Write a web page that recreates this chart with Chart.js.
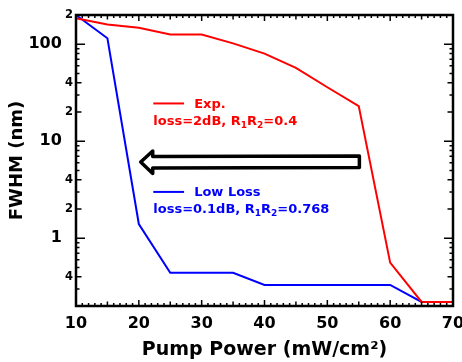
<!DOCTYPE html>
<html>
<head>
<meta charset="utf-8">
<script src="https://cdn.jsdelivr.net/npm/chart.js@4/dist/chart.umd.min.js"></script>
<style>
    html, body { margin: 0; padding: 0; background: #fff; }
    #wrap { width: 462px; height: 362px; }
</style>
</head>
<body>
<div id="wrap"><canvas id="fwhmChart" width="462" height="362"></canvas></div>
<script>
// pump power (mW/cm²)
const pumpPower = [10, 15, 20, 25, 30, 35, 40, 45, 50, 55, 60, 65, 70];
// FWHM (nm) - experiment, loss=2dB
const expFwhm = [185, 160, 148, 126, 126, 102, 80, 57, 36, 23, 0.56, 0.22, 0.22];
// FWHM (nm) - low loss, loss=0.1dB
const lowLossFwhm = [200, 115, 1.4, 0.44, 0.44, 0.44, 0.33, 0.33, 0.33, 0.33, 0.33, 0.22, 0.22];

const xTicks = [10, 20, 30, 40, 50, 60, 70];
const yTicks = [0.2, 0.3, 0.4, 0.5, 0.6, 0.7, 0.8, 0.9, 1, 2, 3, 4, 5, 6, 7, 8, 9, 10, 20, 30, 40, 50, 60, 70, 80, 90, 100, 200];
const yTickLabels = ['', '', '4', '', '', '', '', '', '1', '2', '', '4', '', '', '', '', '', '10', '2', '', '4', '', '', '', '', '', '100', '2'];
const yMajor = [1, 10, 100];

const FONT = 'DejaVu Sans';

/**
 * 内向きの目盛り・枠・注釈を描く
 */
const frameTicks = {
    id: 'frameTicks',
    afterDatasetsDraw(chart) {
        const { ctx, chartArea: a, scales: { x, y } } = chart;
        ctx.save();
        ctx.strokeStyle = '#000';
        ctx.lineWidth = 1.5;
        ctx.beginPath();
        for (let v = 10; v <= 70; v++) {
            const px = x.getPixelForValue(v);
            const len = v % 10 === 0 ? 6 : (v % 5 === 0 ? 4.5 : 3);
            ctx.moveTo(px, a.bottom); ctx.lineTo(px, a.bottom - len);
            ctx.moveTo(px, a.top); ctx.lineTo(px, a.top + len);
        }
        yTicks.forEach((v, i) => {
            const py = y.getPixelForValue(v);
            let len = 3.5;
            if (yMajor.includes(v)) len = 9;
            else if (yTickLabels[i] !== '') len = 5.5;
            ctx.moveTo(a.left, py); ctx.lineTo(a.left + len, py);
            ctx.moveTo(a.right, py); ctx.lineTo(a.right - len, py);
        });
        ctx.stroke();

        ctx.lineWidth = 2.5;
        ctx.strokeRect(a.left, a.top, a.right - a.left, a.bottom - a.top);

        // 凡例の代わりの注釈
        drawNote(ctx, x, y, 'rgb(255,0,0)', 'Exp.', 24.5, [['loss=2dB, R'], ['1', 1], ['R'], ['2', 1], ['=0.4']], 16);
        drawNote(ctx, x, y, 'rgb(0,0,255)', 'Low Loss', 3.0, [['loss=0.1dB, R'], ['1', 1], ['R'], ['2', 1], ['=0.768']], 1.96);

        // 矢印
        const tipX = x.getPixelForValue(20.3);
        const endX = x.getPixelForValue(55.1);
        const headX = tipX + 12;
        const cy = y.getPixelForValue(6.1);
        ctx.beginPath();
        ctx.moveTo(tipX, cy);
        ctx.lineTo(headX, cy - 11);
        ctx.lineTo(headX, cy - 5.5);
        ctx.lineTo(endX, cy - 6);
        ctx.lineTo(endX, cy + 5.5);
        ctx.lineTo(headX, cy + 6);
        ctx.lineTo(headX, cy + 11.5);
        ctx.closePath();
        ctx.fillStyle = '#fff';
        ctx.fill();
        ctx.lineWidth = 3.5;
        ctx.lineJoin = 'round';
        ctx.strokeStyle = '#000';
        ctx.stroke();
        ctx.restore();
    }
};

function drawNote(ctx, x, y, color, title, titleY, parts, lineY) {
    const x0 = x.getPixelForValue(22.3);
    const lx1 = x.getPixelForValue(27.2);
    const tx = x.getPixelForValue(28.8);
    const ty = y.getPixelForValue(titleY);
    ctx.strokeStyle = color;
    ctx.fillStyle = color;
    ctx.lineWidth = 2;
    ctx.beginPath();
    ctx.moveTo(x0, ty); ctx.lineTo(lx1, ty);
    ctx.stroke();
    ctx.textBaseline = 'middle';
    ctx.textAlign = 'left';
    ctx.font = `bold 13px "${FONT}"`;
    ctx.fillText(title, tx, ty + 1);
    let cx = x0;
    const py = y.getPixelForValue(lineY);
    parts.forEach(([txt, sub]) => {
        ctx.font = sub ? `bold 9px "${FONT}"` : `bold 13px "${FONT}"`;
        ctx.fillText(txt, cx, sub ? py + 4 : py);
        cx += ctx.measureText(txt).width;
    });
}

const ctx = document.getElementById('fwhmChart').getContext('2d');
new Chart(ctx, {
    type: 'line',
    data: {
        datasets: [
            {
                label: 'Exp.',
                data: pumpPower.map((p, i) => ({ x: p, y: expFwhm[i] })),
                borderColor: 'rgb(255,0,0)',
                borderWidth: 2,
                pointRadius: 0,
                tension: 0,
                clip: false
            },
            {
                label: 'Low Loss',
                data: pumpPower.map((p, i) => ({ x: p, y: lowLossFwhm[i] })),
                borderColor: 'rgb(0,0,255)',
                borderWidth: 2,
                pointRadius: 0,
                tension: 0,
                clip: false
            }
        ]
    },
    options: {
        responsive: false,
        animation: false,
        layout: { padding: { left: 0, top: 15, right: 9, bottom: 0 } },
        plugins: {
            legend: { display: false },
            tooltip: { enabled: false }
        },
        scales: {
            x: {
                type: 'linear',
                min: 10,
                max: 70,
                grid: { display: false, drawTicks: false },
                border: { display: false },
                afterBuildTicks: (scale) => { scale.ticks = xTicks.map(v => ({ value: v })); },
                afterFit: (scale) => { scale.height = 56; scale.paddingLeft = 0; scale.paddingRight = 0; },
                ticks: {
                    padding: 8,
                    color: '#000',
                    font: { family: FONT, size: 16, weight: 'bold' },
                    maxRotation: 0,
                    autoSkip: false
                },
                title: {
                    display: true,
                    text: 'Pump Power (mW/cm²)',
                    color: '#000',
                    font: { family: FONT, size: 19, weight: 'bold' },
                    padding: { top: 0, bottom: 1 }
                }
            },
            y: {
                type: 'logarithmic',
                min: 0.2,
                max: 200,
                grid: { display: false, drawTicks: false },
                border: { display: false },
                afterBuildTicks: (scale) => { scale.ticks = yTicks.map(v => ({ value: v })); },
                afterFit: (scale) => { scale.width = 76; scale.paddingTop = 0; scale.paddingBottom = 0; },
                ticks: {
                    padding: 3,
                    color: '#000',
                    autoSkip: false,
                    font: (c) => ({
                        family: FONT,
                        weight: 'bold',
                        size: yMajor.includes(c.tick && c.tick.value) ? 16 : 11.5
                    }),
                    callback: (value, index) => {
                        const lbl = yTickLabels[index];
                        return yMajor.includes(value) ? lbl + '  ' : lbl;
                    }
                },
                title: {
                    display: true,
                    text: 'FWHM (nm)',
                    color: '#000',
                    font: { family: FONT, size: 18, weight: 'bold' },
                    padding: { top: 7, bottom: 0 }
                }
            }
        }
    },
    plugins: [frameTicks]
});
</script>
</body>
</html>
